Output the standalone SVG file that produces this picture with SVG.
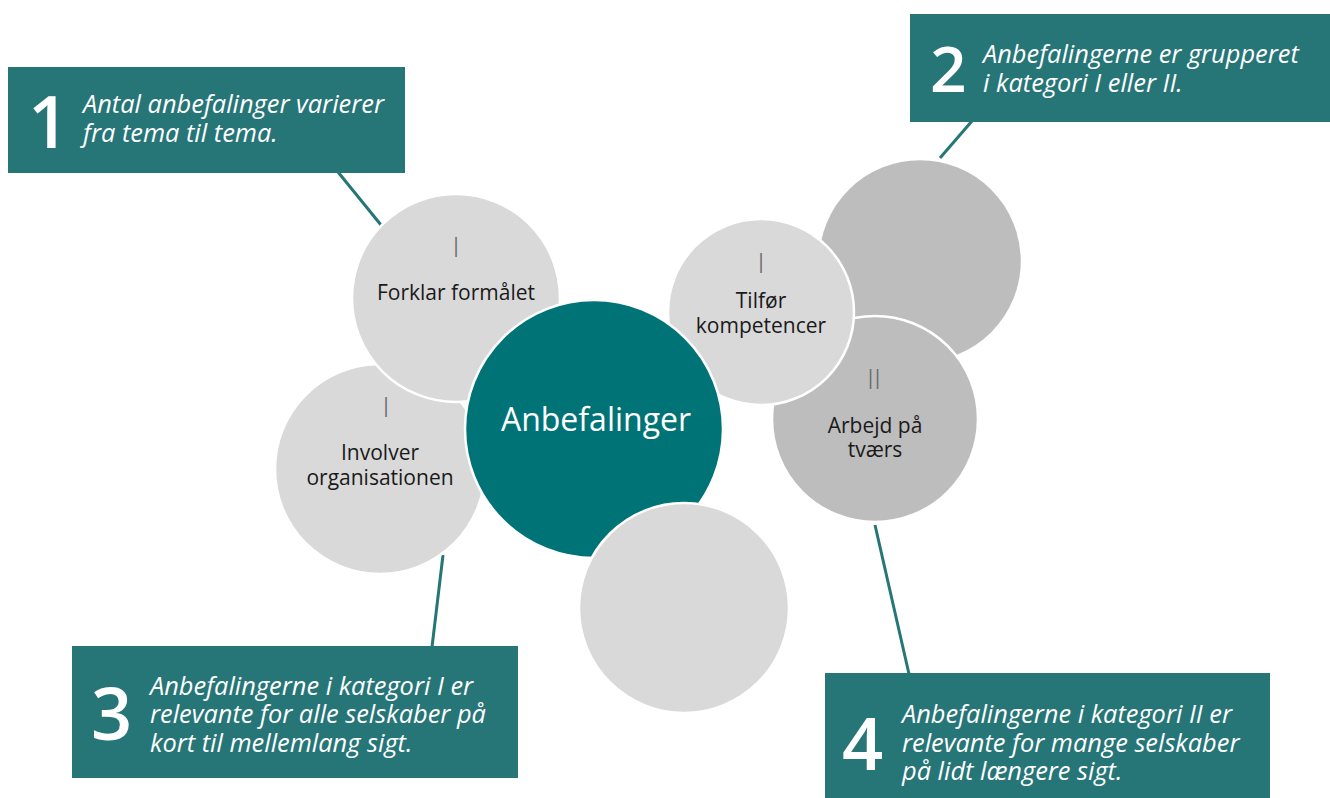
<svg xmlns="http://www.w3.org/2000/svg" width="1330" height="798" viewBox="0 0 1330 798">
<style>
.box{fill:#267577}
.num{font-family:"Open Sans","Liberation Sans",sans-serif;fill:#fff;font-size:72px;font-weight:600}
.note{font-family:"Open Sans","Liberation Sans",sans-serif;fill:#fff;font-size:25.4px;font-style:italic}
.c{stroke:#fff;stroke-width:2.5}
.light{fill:#d9d9d9}
.dark{fill:#bebdbe}
.lbl{font-family:"Open Sans","Liberation Sans",sans-serif;fill:#1a1a1a;font-size:21px;text-anchor:middle}
.rom{font-family:"Open Sans","Liberation Sans",sans-serif;fill:#6a6a6a;font-size:28px;font-weight:300;text-anchor:middle}
.conn line{stroke:#267577;stroke-width:3}
</style>
<rect width="1330" height="798" fill="#fff"/>
<g class="conn" id="connectors">
<line x1="338" y1="172" x2="381" y2="225"/>
<line x1="972" y1="121" x2="940" y2="158"/>
<line x1="443" y1="555" x2="432" y2="647"/>
<line x1="875" y1="525" x2="909" y2="674"/>
</g>
<g id="circle-top-right"><circle class="c dark" cx="920" cy="261" r="102"/></g>
<g id="arbejd"><circle class="c dark" cx="875" cy="419" r="103"/>
<text class="rom" x="874" y="389">II</text>
<text class="lbl" x="875" y="433">Arbejd på</text>
<text class="lbl" x="875" y="457">tværs</text></g>
<g id="tilfor"><circle class="c light" cx="761" cy="312" r="93"/>
<text class="rom" x="761" y="273">I</text>
<text class="lbl" x="761" y="308">Tilfør</text>
<text class="lbl" x="761" y="333">kompetencer</text></g>
<g id="involver"><circle class="c light" cx="380" cy="469" r="105"/>
<text class="rom" x="386" y="417">I</text>
<text class="lbl" x="380" y="460">Involver</text>
<text class="lbl" x="380" y="485">organisationen</text></g>
<g id="forklar"><circle class="c light" cx="456" cy="298" r="104"/>
<text class="rom" x="456" y="257">I</text>
<text class="lbl" x="456" y="300">Forklar formålet</text></g>
<g id="anbefalinger"><circle class="c" fill="#007377" cx="594" cy="429" r="129"/>
<text x="596" y="431" text-anchor="middle" font-family="'Open Sans','Liberation Sans',sans-serif" font-size="32" fill="#fff">Anbefalinger</text></g>
<g id="circle-bottom"><circle class="c light" cx="684" cy="608" r="105"/></g>
<g id="box1"><rect class="box" x="8" y="67" width="397" height="106"/>
<text class="num" x="28" y="148">1</text>
<text class="note" x="83" y="113">Antal anbefalinger varierer</text>
<text class="note" x="83" y="142">fra tema til tema.</text></g>
<g id="box2"><rect class="box" x="910" y="14" width="420" height="108"/>
<text class="num" x="930" y="92" style="font-size:64px">2</text>
<text class="note" x="983" y="63">Anbefalingerne er grupperet</text>
<text class="note" x="983" y="92">i kategori I eller II.</text></g>
<g id="box3"><rect class="box" x="72" y="646" width="446" height="132"/>
<text class="num" x="91" y="740">3</text>
<text class="note" x="150" y="695">Anbefalingerne i kategori I er</text>
<text class="note" x="150" y="723">relevante for alle selskaber på</text>
<text class="note" x="150" y="752">kort til mellemlang sigt.</text></g>
<g id="box4"><rect class="box" x="825" y="673" width="445" height="125"/>
<text class="num" x="842" y="770">4</text>
<text class="note" x="902" y="723">Anbefalingerne i kategori II er</text>
<text class="note" x="902" y="752">relevante for mange selskaber</text>
<text class="note" x="902" y="780">på lidt længere sigt.</text></g>
</svg>
